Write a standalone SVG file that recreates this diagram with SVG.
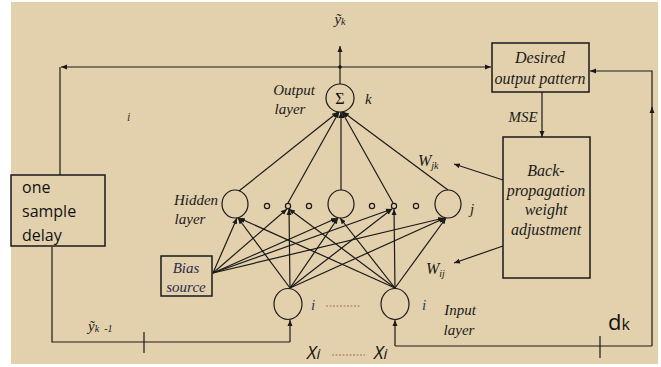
<svg xmlns="http://www.w3.org/2000/svg" width="661" height="367" viewBox="0 0 661 367">
<style>
.ln{stroke:#1a1a1a;stroke-width:1.2;fill:none}
.nd{stroke:#1a1a1a;stroke-width:1.2;fill:none}
.bx{stroke:#1a1a1a;stroke-width:1.5;fill:none}
.it{font-family:"Liberation Serif","Times New Roman",serif;font-style:italic;fill:#1a1a1a}
.sn{font-family:"Open Sans","Liberation Sans",sans-serif;fill:#111}
.ar{marker-end:url(#ah)}
</style>
<defs>
<marker id="ah" markerUnits="userSpaceOnUse" markerWidth="8" markerHeight="8" refX="6" refY="3" orient="auto">
<path d="M0,0.5 L6,3 L0,5.5 Z" fill="#1a1a1a"/>
</marker>
</defs>
<rect x="0" y="0" width="661" height="367" fill="#ffffff"/>
<rect x="11" y="2" width="647" height="362" fill="#e3d1ad"/>

<g id="connectors">
<path class="ln ar" d="M340,67 H61"/>
<path class="ln" d="M60,67 V175"/>
<path class="ln ar" d="M340,67 H491"/>
<circle cx="340" cy="67" r="1.8" fill="#1a1a1a"/>
<path class="ln ar" d="M340,84 V46"/>
<path class="ln ar" d="M652,346 V107"/>
<path class="ln ar" d="M652,110 V71 H590"/>
<path class="ln" d="M652,346 H395"/>
<path class="ln" d="M600,336 V358"/>
<path class="ln ar" d="M542,92 V137"/>
<path class="ln ar" d="M503,180 L454,164"/>
<path class="ln ar" d="M503,246 L454,263"/>
<path class="ln" d="M52,247 V342 H290"/>
<path class="ln" d="M144,332 V353"/>
<path class="ln ar" d="M290,342 V320"/>
<path class="ln ar" d="M395,346 V320"/>
<path class="ln ar" d="M239,191 L338,112"/>
<path class="ln ar" d="M288,203 L339,112"/>
<path class="ln ar" d="M341,190 V112"/>
<path class="ln ar" d="M393,203 L342,112"/>
<path class="ln ar" d="M448,190 L343,112"/>
<path class="ln ar" d="M213,273 L237,218"/>
<path class="ln ar" d="M213,273 L287,209"/>
<path class="ln ar" d="M213,273 L337,218"/>
<path class="ln ar" d="M213,273 L392,209"/>
<path class="ln ar" d="M213,273 L444,218"/>
<path class="ln ar" d="M290,288 L238,218"/>
<path class="ln ar" d="M290,288 L289,209"/>
<path class="ln ar" d="M290,288 L338,218"/>
<path class="ln ar" d="M290,288 L392,209"/>
<path class="ln ar" d="M290,288 L445,218"/>
<path class="ln ar" d="M395,288 L239,218"/>
<path class="ln ar" d="M395,288 L289,209"/>
<path class="ln ar" d="M395,288 L340,218"/>
<path class="ln ar" d="M395,288 L394,209"/>
<path class="ln ar" d="M395,288 L446,218"/>
</g>

<g id="output-node">
<circle class="nd" cx="340" cy="98" r="14" fill="#e3d1ad"/>
<text x="340" y="104" font-size="16" text-anchor="middle" style="font-family:'Liberation Serif',serif;fill:#111">Σ</text>
<text class="it" x="365" y="104" font-size="15">k</text>
<text class="it" x="294" y="95" font-size="15" text-anchor="middle">Output</text>
<text class="it" x="290" y="114" font-size="15" text-anchor="middle">layer</text>
<text class="it" x="340" y="24" font-size="15" text-anchor="middle">ỹ<tspan font-size="10" dy="1">k</tspan></text>
</g>

<g id="hidden-layer">
<ellipse class="nd" cx="235" cy="204" rx="13" ry="14"/>
<ellipse class="nd" cx="341" cy="204" rx="13" ry="14"/>
<ellipse class="nd" cx="448" cy="204" rx="13" ry="14"/>
<circle class="nd" cx="267" cy="206" r="2.6"/>
<circle class="nd" cx="288" cy="206" r="2.6"/>
<circle class="nd" cx="309" cy="206" r="2.6"/>
<circle class="nd" cx="372" cy="206" r="2.6"/>
<circle class="nd" cx="394" cy="206" r="2.6"/>
<circle class="nd" cx="416" cy="206" r="2.6"/>
<text class="it" x="470" y="214" font-size="15">j</text>
<text class="it" x="196" y="205" font-size="15" text-anchor="middle">Hidden</text>
<text class="it" x="190" y="224" font-size="15" text-anchor="middle">layer</text>
</g>

<g id="input-layer">
<ellipse class="nd" cx="288" cy="304" rx="14" ry="15.5"/>
<ellipse class="nd" cx="395" cy="304" rx="14" ry="15.5"/>
<text class="it" x="311" y="310" font-size="15" style="fill:#2a3a7a">i</text>
<text class="it" x="422" y="310" font-size="15" style="fill:#2a3a7a">i</text>
<path d="M326,306 H361" stroke="#a07050" stroke-width="1" stroke-dasharray="2,1.5"/>
<text class="it" x="460" y="315" font-size="15" text-anchor="middle">Input</text>
<text class="it" x="459" y="335" font-size="15" text-anchor="middle">layer</text>
<text class="sn" x="307" y="359" font-size="18" font-style="italic">X<tspan font-size="15">i</tspan></text>
<path d="M332,355 H365" stroke="#a07050" stroke-width="1" stroke-dasharray="2,1.5"/>
<text class="sn" x="374" y="359" font-size="18" font-style="italic">X<tspan font-size="15">i</tspan></text>
</g>

<g id="bias-source">
<rect class="bx" x="161" y="256" width="51" height="40"/>
<text class="it" x="186" y="273" font-size="15" text-anchor="middle" style="fill:#2a2a50">Bias</text>
<text class="it" x="186" y="292" font-size="15" text-anchor="middle" style="fill:#2a2a50">source</text>
</g>

<g id="delay-box">
<rect class="bx" x="11" y="175" width="94" height="71"/>
<text class="sn" x="22" y="193" font-size="16">one</text>
<text class="sn" x="22" y="217" font-size="16">sample</text>
<text class="sn" x="22" y="241" font-size="16">delay</text>
<text class="it" x="88" y="331" font-size="15">ỹ<tspan font-size="10" dy="1">k</tspan><tspan font-size="10" dx="5">-1</tspan></text>
<text class="it" x="127" y="121" font-size="12" style="fill:#503020">i</text>
</g>

<g id="desired-box">
<rect class="bx" x="492" y="43" width="97" height="49"/>
<text class="it" x="540" y="63" font-size="16" text-anchor="middle">Desired</text>
<text class="it" x="540" y="84" font-size="16" text-anchor="middle">output pattern</text>
<text class="it" x="523" y="122" font-size="15" text-anchor="middle">MSE</text>
<text class="sn" x="608" y="330" font-size="22">d<tspan font-size="16">k</tspan></text>
</g>

<g id="backprop-box">
<rect class="bx" x="503" y="137" width="87" height="141"/>
<text class="it" x="546" y="176" font-size="16" text-anchor="middle">Back-</text>
<text class="it" x="546" y="196" font-size="16" text-anchor="middle">propagation</text>
<text class="it" x="546" y="215" font-size="16" text-anchor="middle">weight</text>
<text class="it" x="546" y="235" font-size="16" text-anchor="middle">adjustment</text>
<text class="it" x="418" y="166" font-size="16">W<tspan font-size="10" dy="3">jk</tspan></text>
<text class="it" x="426" y="274" font-size="16">W<tspan font-size="10" dy="3">ij</tspan></text>
</g>
</svg>
